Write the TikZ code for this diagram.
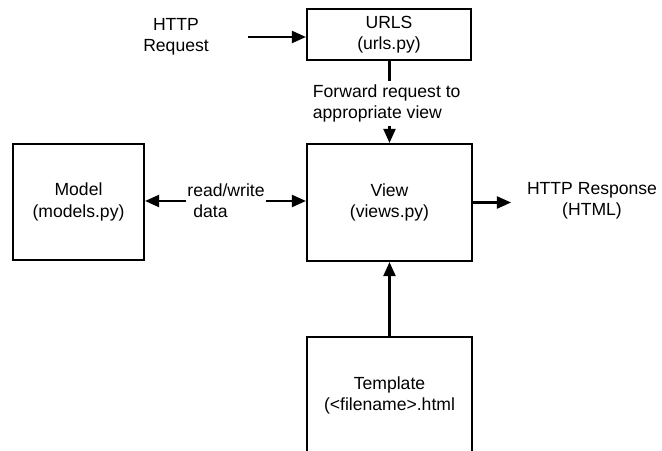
\documentclass[tikz,border=0pt]{standalone}
\usepackage{fontspec}
\setmainfont{Liberation Sans}
\usetikzlibrary{arrows.meta}
\begin{document}
\begin{tikzpicture}[x=0.025cm, y=-0.025cm, line width=1.5pt,
    font=\fontsize{12.5}{15}\selectfont,
    box/.style={draw, align=center, minimum width=4.125cm},
    txt/.style={inner sep=0pt}]
  \clip (0,0) rectangle (662,451);
  \draw
    (389,34.5) node[box, minimum width=4.1cm, minimum height=1.275cm] (urls){URLS\\(urls.py)}
    (389.5,202.5) node[box, minimum height=2.925cm] (view){View\\(views.py)}
    (78.5,202) node[box, minimum width=3.275cm, minimum height=2.9cm] (model){Model\\(models.py)}
    (389.5,395) node[box, minimum height=2.9cm] (tmpl){Template\\(<filename>.html}
    (176,37) node[txt, align=center] (req){HTTP\\Request}
    (592,201) node[txt, align=center] (resp){HTTP Response\\(HTML)}
    (226,201) node[txt, align=left] (rw){read/write\\\hspace{0.15cm}data};
  \begin{scope}[-{Triangle[length=0.35cm, width=0.3cm]}]
    \draw[shorten <=0.96cm] (req.east) -- (req.east -| urls.west);
    \draw (urls.south -| view.north) -- node[fill=white, inner sep=2.5pt, align=left, xshift=-0.07cm, pos=0.52] (fwd){Forward request to\\appropriate view} (view);
    \draw (rw.west) -- (rw.west -| model.east);
    \draw (rw.east) -- (rw.east -| view.west);
    \draw[shorten >=0.375cm] (view.east) -- (view.east -| resp.west);
    \draw (tmpl) -- (view);
  \end{scope}
\end{tikzpicture}
\end{document}
